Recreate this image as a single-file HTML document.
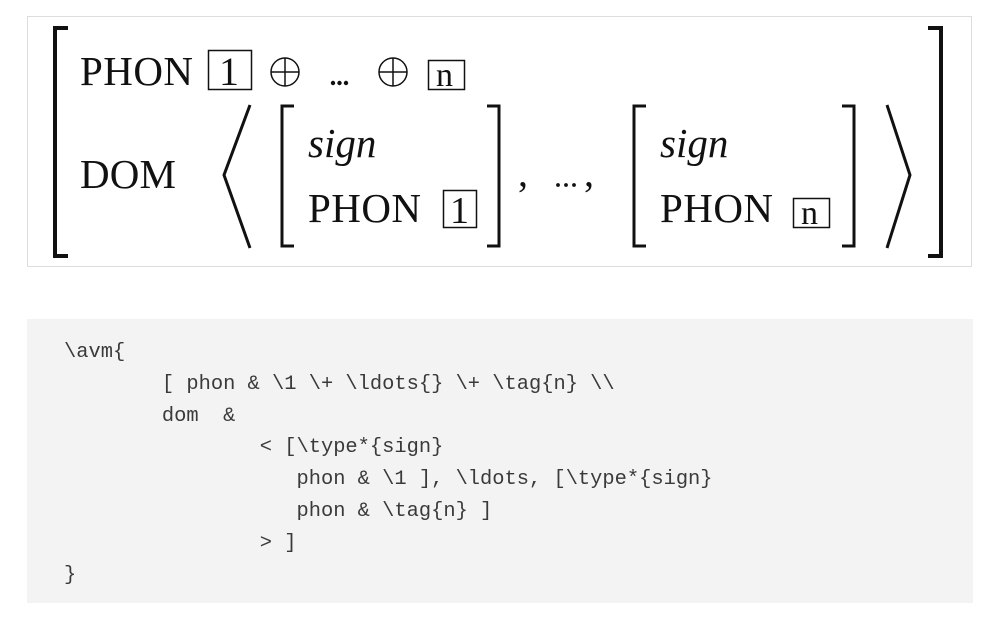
<!DOCTYPE html>
<html><head><meta charset="utf-8"><style>
html,body{margin:0;padding:0;background:#fff;width:995px;height:628px;overflow:hidden}
.code{position:absolute;left:27px;top:319px;width:946px;height:284px;background:#f3f3f3}
pre{position:absolute;left:37px;top:18px;margin:0;font-family:"Liberation Mono",monospace;font-size:20.4px;line-height:31.8px;color:#3a3a3a}
</style></head><body>
<svg width="995" height="628" style="position:absolute;left:0;top:0" font-family="Liberation Serif, serif">
<rect x="27.5" y="16.5" width="944" height="250" fill="#fff" stroke="#ddd" stroke-width="1"/>
<g fill="none" stroke="#111" stroke-linecap="butt">
<path d="M68 28 H55 V256 H68" stroke-width="4"/>
<path d="M928 28 H941 V256 H928" stroke-width="4"/>
<path d="M250 105 L224 175 L250 248" stroke-width="3"/>
<path d="M887 105 L910 175 L887 248" stroke-width="3"/>
<path d="M294 106 H282 V246 H294" stroke-width="3"/>
<path d="M487 106 H499 V246 H487" stroke-width="3"/>
<path d="M646 106 H634 V246 H646" stroke-width="3"/>
<path d="M842 106 H854 V246 H842" stroke-width="3"/>
<rect x="208.5" y="50.5" width="43" height="39" stroke-width="1.5"/>
<rect x="428.5" y="60.5" width="36" height="29" stroke-width="1.5"/>
<rect x="443.5" y="190.5" width="33" height="37" stroke-width="1.5"/>
<rect x="793.5" y="198.5" width="36" height="29" stroke-width="1.5"/>
<circle cx="285" cy="72" r="14" stroke-width="1.5"/>
<path d="M271 72 H299 M285 58 V86" stroke-width="1.5"/>
<circle cx="393" cy="72" r="14" stroke-width="1.5"/>
<path d="M379 72 H407 M393 58 V86" stroke-width="1.5"/>
</g>
<g fill="#111">
<circle cx="333" cy="83" r="2.2"/><circle cx="339.5" cy="83" r="2.2"/><circle cx="346" cy="83" r="2.2"/>
<circle cx="558" cy="185" r="1.9"/><circle cx="566" cy="185" r="1.9"/><circle cx="574" cy="185" r="1.9"/>
<text x="80" y="85" font-size="41" textLength="113">PHON</text>
<text x="219" y="85" font-size="40">1</text>
<text x="436" y="86" font-size="34">n</text>
<text x="80" y="188" font-size="41" textLength="96">DOM</text>
<text x="308" y="157" font-size="41" font-style="italic">sign</text>
<text x="308" y="222" font-size="41" textLength="113">PHON</text>
<text x="450" y="223" font-size="38">1</text>
<text x="660" y="157" font-size="41" font-style="italic">sign</text>
<text x="660" y="222" font-size="41" textLength="113">PHON</text>
<text x="801" y="224" font-size="34">n</text>
<text x="518" y="186" font-size="40">,</text>
<text x="584" y="186" font-size="40">,</text>
</g>
</svg>
<div class="code"><pre>\avm{
        [ phon &amp; \1 \+ \ldots{} \+ \tag{n} \\
        dom  &amp;
                &lt; [\type*{sign}
                   phon &amp; \1 ], \ldots, [\type*{sign}
                   phon &amp; \tag{n} ]
                &gt; ]
}</pre></div>
</body></html>
